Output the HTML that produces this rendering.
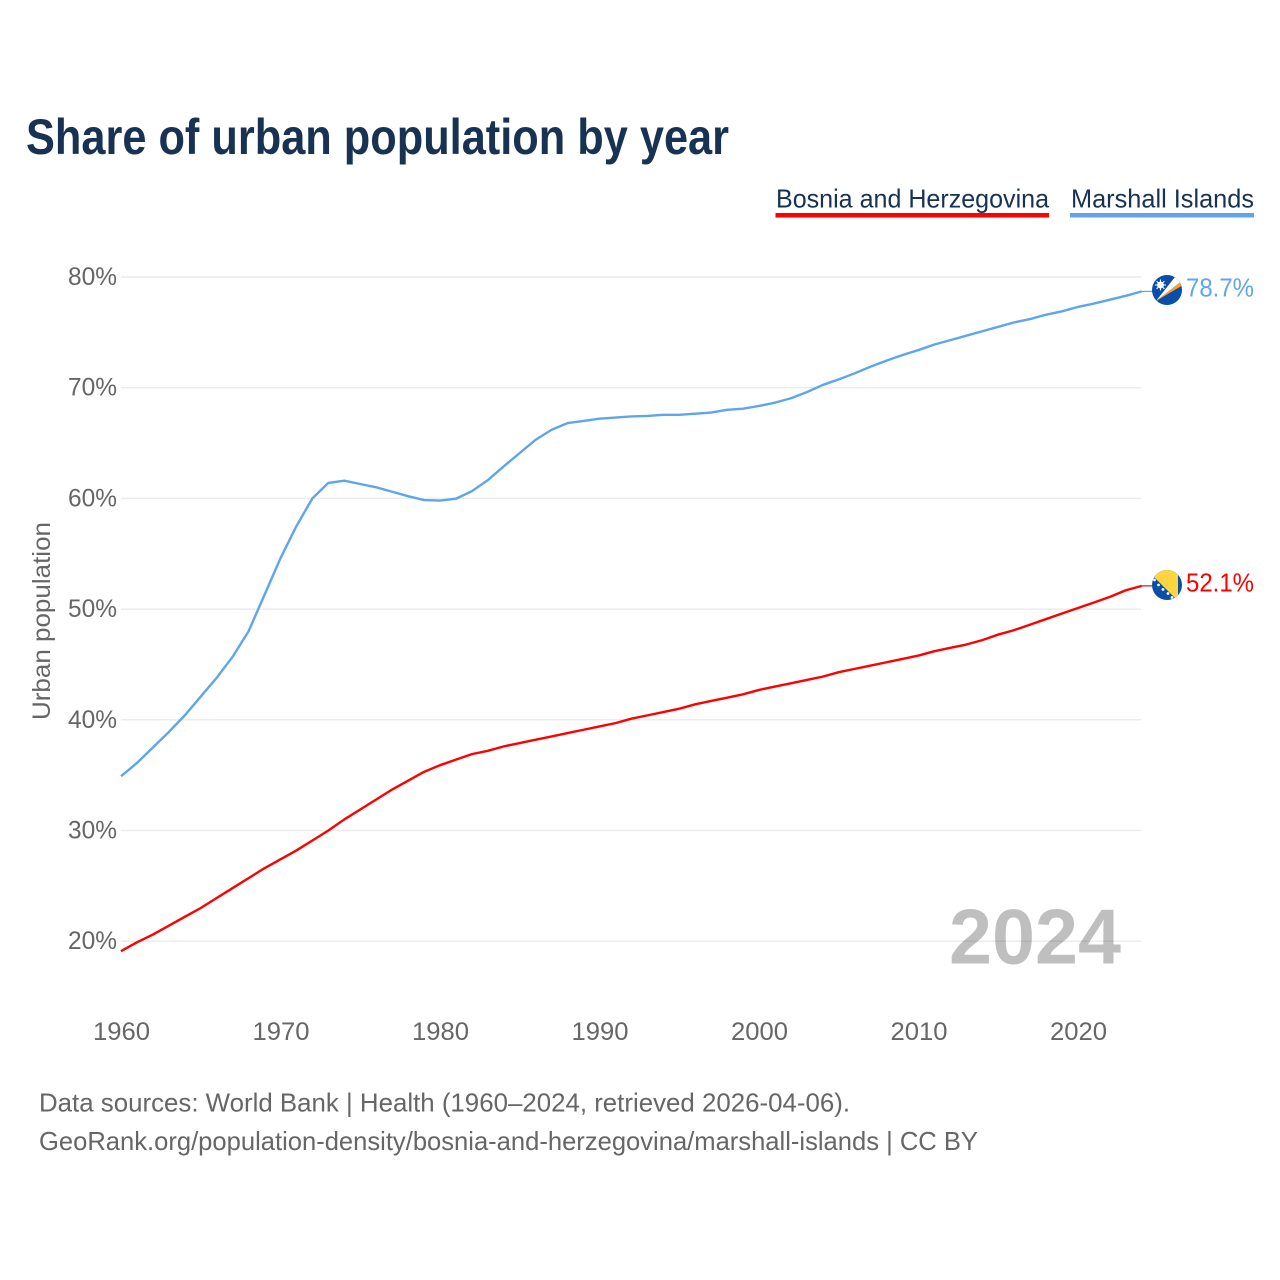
<!DOCTYPE html>
<html lang="en">
<head>
<meta charset="utf-8">
<title>Share of urban population by year</title>
<style>
html,body{margin:0;padding:0;background:#fff;}
svg{display:block;font-family:"Liberation Sans",sans-serif;}
</style>
</head>
<body>
<svg id="chart" width="1280" height="1280" viewBox="0 0 1280 1280" xmlns="http://www.w3.org/2000/svg">
  <defs>
    <clipPath id="clip-mh"><circle cx="1167" cy="290" r="15"/></clipPath>
    <clipPath id="clip-ba"><circle cx="1167" cy="585" r="15"/></clipPath>
  </defs>
  <text x="26" y="154" font-size="50" font-weight="700" fill="#173253" textLength="703" lengthAdjust="spacingAndGlyphs">Share of urban population by year</text>

  <g>
    <g>
      <text x="776" y="207.5" font-size="26" fill="#173253" textLength="273" lengthAdjust="spacingAndGlyphs">Bosnia and Herzegovina</text>
      <rect x="775.5" y="213" width="273.5" height="4.5" fill="#ff0000"/>
    </g>
    <g>
      <text x="1071" y="207.5" font-size="26" fill="#173253" textLength="183" lengthAdjust="spacingAndGlyphs">Marshall Islands</text>
      <rect x="1070" y="213" width="184" height="4.5" fill="#5fa5ec"/>
    </g>
  </g>

  <g id="grid"></g>
  <g id="y-ticks"></g>
  <g id="x-ticks"></g>
  <text transform="translate(50,621) rotate(-90)" text-anchor="middle" font-size="25" fill="#666" textLength="198" lengthAdjust="spacingAndGlyphs">Urban population</text>

  <text x="949" y="963.5" font-size="78" font-weight="700" fill="#000000" fill-opacity="0.25" textLength="172" lengthAdjust="spacingAndGlyphs">2024</text>

  <g id="lines"></g>

  <g clip-path="url(#clip-mh)">
    <rect x="1152" y="275" width="30" height="30" fill="#0a4ea8"/>
    <polygon points="1156,301 1183,280 1183,285" fill="#fb9f2c"/>
    <polygon points="1156,301 1175,277 1183,280" fill="#ffffff"/>
    <circle cx="1160.5" cy="285" r="3.4" fill="#ffffff"/>
    <path d="M1160.5 279.5V290.5M1155 285H1166M1156.6 281.1L1164.4 288.9M1164.4 281.1L1156.6 288.9" stroke="#fff" stroke-width="1.1"/>
  </g>
  <g clip-path="url(#clip-ba)">
    <rect x="1152" y="570" width="30" height="30" fill="#0a4ea8"/>
    <polygon points="1147,570 1178,570 1178,601" fill="#fdd63f"/>
    <g fill="#ffffff">
      <circle cx="1154.5" cy="580" r="1.4"/>
      <circle cx="1158.5" cy="585" r="1.4"/>
      <circle cx="1163" cy="589.5" r="1.4"/>
      <circle cx="1168" cy="593.5" r="1.4"/>
      <circle cx="1172" cy="597.5" r="1.4"/>
    </g>
  </g>

  <text x="1186" y="296.7" font-size="26" fill="#5fa5ec" textLength="68" lengthAdjust="spacingAndGlyphs">78.7%</text>
  <text x="1186" y="591.7" font-size="26" fill="#ff0000" textLength="68" lengthAdjust="spacingAndGlyphs">52.1%</text>

  <text x="39" y="1111.5" font-size="26" fill="#666" textLength="811" lengthAdjust="spacingAndGlyphs">Data sources: World Bank | Health (1960–2024, retrieved 2026-04-06).</text>
  <text x="39" y="1150" font-size="26" fill="#666" textLength="939" lengthAdjust="spacingAndGlyphs">GeoRank.org/population-density/bosnia-and-herzegovina/marshall-islands | CC BY</text>
</svg>
<script>
const years = [1960,1961,1962,1963,1964,1965,1966,1967,1968,1969,1970,1971,1972,1973,1974,1975,1976,1977,1978,1979,1980,1981,1982,1983,1984,1985,1986,1987,1988,1989,1990,1991,1992,1993,1994,1995,1996,1997,1998,1999,2000,2001,2002,2003,2004,2005,2006,2007,2008,2009,2010,2011,2012,2013,2014,2015,2016,2017,2018,2019,2020,2021,2022,2023,2024];
const marshallValues = [34.9,36.1,37.5,38.9,40.4,42.1,43.8,45.7,48.0,51.3,54.6,57.5,60.0,61.4,61.6,61.3,61.0,60.6,60.2,59.85,59.8,59.97,60.65,61.65,62.9,64.1,65.3,66.2,66.8,67.0,67.2,67.3,67.4,67.45,67.55,67.55,67.65,67.75,68.0,68.1,68.35,68.65,69.05,69.6,70.25,70.75,71.3,71.9,72.45,72.95,73.4,73.9,74.3,74.7,75.1,75.5,75.9,76.2,76.6,76.9,77.3,77.6,77.95,78.3,78.7];
const bosniaValues = [19.1,19.9,20.6,21.4,22.2,23.0,23.9,24.8,25.7,26.6,27.4,28.2,29.1,30.0,31.0,31.9,32.8,33.7,34.5,35.3,35.9,36.4,36.9,37.2,37.6,37.9,38.2,38.5,38.8,39.1,39.4,39.7,40.1,40.4,40.7,41.0,41.4,41.7,42.0,42.3,42.7,43.0,43.3,43.6,43.9,44.3,44.6,44.9,45.2,45.5,45.8,46.2,46.5,46.8,47.2,47.7,48.1,48.6,49.1,49.6,50.1,50.6,51.1,51.7,52.1];
const yTickValues = [20,30,40,50,60,70,80];
const xTickValues = [1960,1970,1980,1990,2000,2010,2020];

const SVG_NS = 'http://www.w3.org/2000/svg';
function xScale(year){ return 121 + (year - 1960) * 15.95; }
function yScale(value){ return 277 + (80 - value) * 11.07; }
function make(tag, attrs){
  const el = document.createElementNS(SVG_NS, tag);
  for (const k in attrs) el.setAttribute(k, attrs[k]);
  return el;
}

const gridGroup = document.getElementById('grid');
const yTickGroup = document.getElementById('y-ticks');
yTickValues.forEach(function(v){
  const line = make('line', {x1:121, x2:1141, y1:yScale(v), y2:yScale(v), stroke:'#ececec', 'stroke-width':1.5});
  
  
  gridGroup.appendChild(line);
  const label = make('text', {x:68, y:yScale(v)+8, 'font-size':25, fill:'#666', textLength:49, lengthAdjust:'spacingAndGlyphs'});
  
  
  label.textContent = v + '%';
  yTickGroup.appendChild(label);
});

const xTickGroup = document.getElementById('x-ticks');
xTickValues.forEach(function(y){
  const label = make('text', {x:xScale(y)-28, y:1040, 'font-size':25, fill:'#666', textLength:57, lengthAdjust:'spacingAndGlyphs'});
  
  
  label.textContent = y;
  xTickGroup.appendChild(label);
});

function pathFor(values){
  return values.map(function(v, i){
    return (i ? 'L' : 'M') + xScale(years[i]).toFixed(2) + ' ' + yScale(v).toFixed(2);
  }).join('');
}
function connectorPath(values){
  const last = yScale(values[values.length - 1]);
  return 'M' + xScale(years[years.length - 1]).toFixed(2) + ' ' + last.toFixed(2) + 'L1154 ' + last.toFixed(2);
}
const linesGroup = document.getElementById('lines');

const marshallLine = make('path', {d:pathFor(marshallValues), fill:'none', stroke:'#5fa5ec', 'stroke-width':2.4, 'stroke-linejoin':'round'});


linesGroup.appendChild(marshallLine);

const marshallConnector = make('path', {d:connectorPath(marshallValues), fill:'none', stroke:'#5fa5ec', 'stroke-width':1.2});


linesGroup.appendChild(marshallConnector);

const bosniaLine = make('path', {d:pathFor(bosniaValues), fill:'none', stroke:'#ff0000', 'stroke-width':2.4, 'stroke-linejoin':'round'});


linesGroup.appendChild(bosniaLine);

const bosniaConnector = make('path', {d:connectorPath(bosniaValues), fill:'none', stroke:'#ff0000', 'stroke-width':1.2});


linesGroup.appendChild(bosniaConnector);
</script>
</body>
</html>
